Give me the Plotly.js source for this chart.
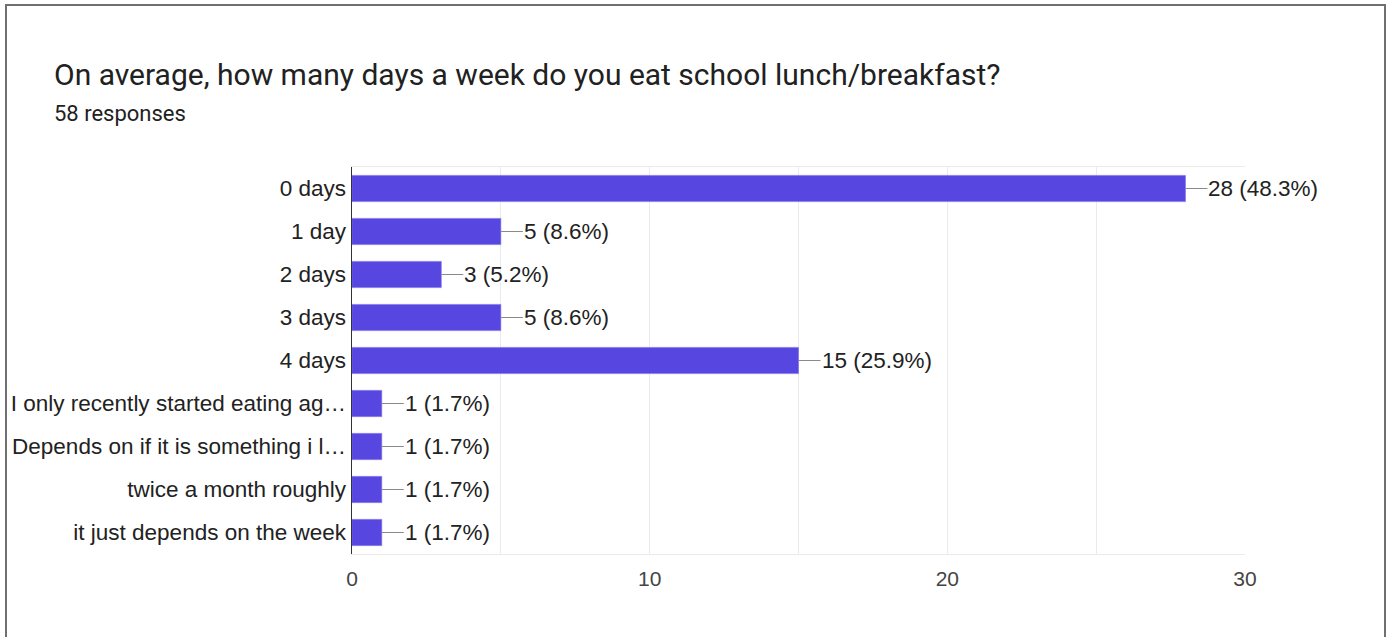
<!DOCTYPE html>
<html>
<head>
<meta charset="utf-8">
<script src="https://cdn.plot.ly/plotly-3.0.1.min.js"></script>
<style>
  html, body { margin: 0; padding: 0; background: #fff; }
  #chart { width: 1387px; height: 637px; }
</style>
</head>
<body>
<div id="chart"></div>
<script>
const titleText = "On average, how many days a week do you eat school lunch/breakfast?";
const subtitleText = "58 responses";
const categories = [
  "0 days",
  "1 day",
  "2 days",
  "3 days",
  "4 days",
  "I only recently started eating ag…",
  "Depends on if it is something i l…",
  "twice a month roughly",
  "it just depends on the week"
];
const counts = [28, 5, 3, 5, 15, 1, 1, 1, 1];
const percents = ["48.3%", "8.6%", "5.2%", "8.6%", "25.9%", "1.7%", "1.7%", "1.7%", "1.7%"];
const xTickVals = [0, 10, 20, 30];

const TFONT = "Roboto, Arial, sans-serif";
const CFONT = "'Liberation Sans', Arial, sans-serif";

const trace = {
  type: "bar",
  orientation: "h",
  y: categories,
  x: counts,
  marker: { color: "#5746e0", line: { color: "#7a6cf0", width: 0.6 } },
  hoverinfo: "skip"
};

const labelAnnotations = categories.map((c, i) => ({
  x: counts[i],
  y: c,
  xref: "x",
  yref: "y",
  text: counts[i] + " (" + percents[i] + ")",
  showarrow: true,
  arrowhead: 0,
  arrowwidth: 1.2,
  arrowcolor: "#8a8a8a",
  ax: 22,
  ay: 0,
  standoff: 0,
  startstandoff: 0,
  xanchor: "left",
  yanchor: "middle",
  borderpad: 0,
  font: { family: CFONT, size: 22.5, color: "#222222" }
}));

const layout = {
  width: 1387,
  height: 637,
  margin: { l: 352, r: 142, t: 167, b: 83 },
  paper_bgcolor: "#ffffff",
  plot_bgcolor: "#ffffff",
  showlegend: false,
  bargap: 0.39,
  title: {
    text: titleText,
    xref: "container",
    yref: "container",
    x: 54 / 1387,
    xanchor: "left",
    y: 1 - 74 / 637,
    yanchor: "middle",
    font: { family: TFONT, size: 30, color: "#212121" }
  },
  xaxis: {
    range: [0, 30],
    tickvals: xTickVals,
    showgrid: true,
    gridcolor: "#ebebeb",
    gridwidth: 1,
    minor: { dtick: 5, showgrid: true, gridcolor: "#ebebeb", gridwidth: 1 },
    showline: true,
    linecolor: "#ebebeb",
    linewidth: 1,
    mirror: true,
    zeroline: false,
    ticks: "",
    ticklabelstandoff: 6,
    tickfont: { family: CFONT, size: 21, color: "#444444" },
    fixedrange: true
  },
  yaxis: {
    type: "category",
    autorange: "reversed",
    showgrid: false,
    showline: true,
    linecolor: "#333333",
    linewidth: 1.5,
    zeroline: false,
    ticks: "",
    ticklabelstandoff: 0,
    tickfont: { family: CFONT, size: 22.5, color: "#222222" },
    fixedrange: true
  },
  annotations: [
    {
      text: subtitleText,
      xref: "paper",
      yref: "paper",
      x: (52 - 352) / 893,
      y: (554 - 113) / 387,
      xanchor: "left",
      yanchor: "middle",
      showarrow: false,
      font: { family: TFONT, size: 22, color: "#212121" }
    }
  ].concat(labelAnnotations),
  shapes: [
    {
      type: "rect",
      xref: "paper",
      yref: "paper",
      x0: (6 - 352) / 893,
      x1: (1385 - 352) / 893,
      y0: (554 - 645) / 387,
      y1: (554 - 5) / 387,
      line: { color: "#707070", width: 2 },
      fillcolor: "rgba(0,0,0,0)",
      layer: "above"
    }
  ]
};

Plotly.newPlot("chart", [trace], layout, { displayModeBar: false, staticPlot: true });
</script>
</body>
</html>
